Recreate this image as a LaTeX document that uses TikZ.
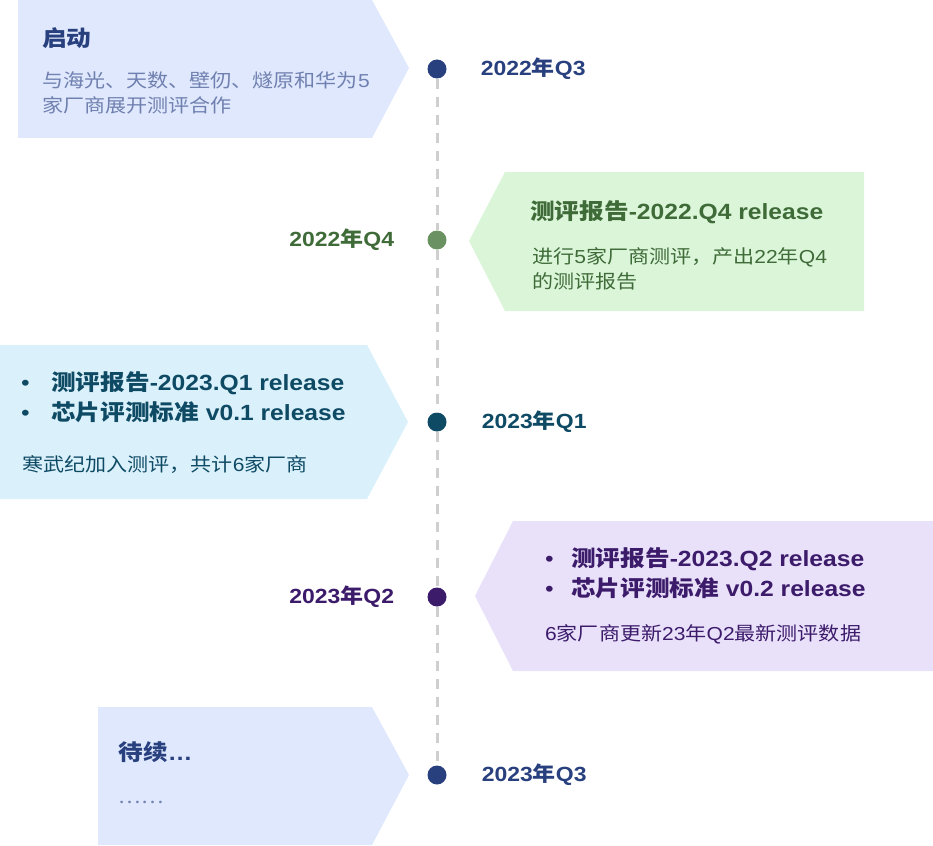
\documentclass[tikz,border=0pt]{standalone}
\usepackage{fontspec}
\setmainfont{Liberation Sans}[FakeStretch=1.12]
\newfontfamily\cjk{Noto Sans CJK SC}[FakeStretch=1.12]
\usetikzlibrary{positioning}
\newcommand{\zh}[1]{{\cjk #1}}
\definecolor{fillA}{HTML}{DFE8FC}
\definecolor{fillG}{HTML}{DBF5D8}
\definecolor{fillB}{HTML}{DAF1FC}
\definecolor{fillP}{HTML}{E9E1FA}
\definecolor{navy}{HTML}{29407F}
\definecolor{slate}{HTML}{7080B0}
\definecolor{leaf}{HTML}{3F6B39}
\definecolor{leafdot}{HTML}{6A9162}
\definecolor{teal}{HTML}{0E4A64}
\definecolor{plum}{HTML}{3C1B6B}
\definecolor{dashgrey}{HTML}{CFCFCF}

\begin{document}
\begin{tikzpicture}[x=1pt,y=-1pt,
  txt/.style={inner sep=0pt, anchor=base west},
  para/.style={inner sep=0pt, anchor=north west, align=left},
  dot/.style={circle, inner sep=0pt, minimum size=19pt},
  datelbl/.style={inner sep=0pt, font=\fontsize{20.5}{24}\selectfont\bfseries},
  ttl/.style={font=\fontsize{22}{30}\selectfont\bfseries},
  bodyfont/.style={font=\fontsize{18.8}{25}\selectfont},
  timeline/.style={dashgrey, line width=3pt, dash pattern=on 10pt off 8pt}]
\useasboundingbox (0,0) rectangle (933,845);

% arrow boxes
\fill[fillA] (18,0) -- (372,0) -- (409,68) -- (372,138) -- (18,138) -- cycle;
\fill[fillG] (469,241) -- (505,172) -- (864,172) -- (864,311) -- (505,311) -- cycle;
\fill[fillB] (0,345) -- (367,345) -- (408,422) -- (367,499) -- (0,499) -- cycle;
\fill[fillP] (475,596) -- (513,521) -- (933,521) -- (933,671) -- (513,671) -- cycle;
\fill[fillA] (98,707) -- (372,707) -- (409,775) -- (372,845) -- (98,845) -- cycle;

% timeline
\node[dot, fill=navy] (q3) at (437,69) {};
\node[dot, fill=leafdot] (q4) at (437,240) {};
\node[dot, fill=teal] (q1) at (437,422) {};
\node[dot, fill=plum] (q2) at (437,597) {};
\node[dot, fill=navy] (q3b) at (437,775) {};
\foreach \a/\b in {q3/q4, q4/q1, q1/q2, q2/q3b}
  \draw[timeline] (\a) -- (\b);

\node[datelbl, text=navy, right=34pt of q3] (l3) {2022\zh{年}Q3};
\node[datelbl, text=leaf, left=33pt of q4] (l4) {2022\zh{年}Q4};
\node[datelbl, text=teal, right=35pt of q1] (l1) {2023\zh{年}Q1};
\node[datelbl, text=plum, left=33pt of q2] (l2) {2023\zh{年}Q2};
\node[datelbl, text=navy, right=35pt of q3b] (l3b) {2023\zh{年}Q3};

% 2022 Q3
\node[txt, ttl, text=navy] (t1) at (42,47) {\zh{启动}};
\node[para, bodyfont, text=slate] (b1) at (42,71.5)
  {\zh{与海光、天数、壁仞、燧原和华为}5\\\zh{家厂商展开测评合作}};

% 2022 Q4
\node[txt, ttl, text=leaf] (t2) at (530,219) {\zh{测评报告}-2022.Q4 release};
\node[para, bodyfont, text=leaf] (b2) at (532,247.5)
  {\zh{进行}5\zh{家厂商测评，产出}22\zh{年}Q4\\\zh{的测评报告}};

% 2023 Q1
\node[para, ttl, text=teal] (t3) at (21,371)
  {\makebox[30pt][l]{\mdseries •}\zh{测评报告}-2023.Q1 release\\
   \makebox[30pt][l]{\mdseries •}\zh{芯片评测标准} v0.1 release};
\node[txt, bodyfont, text=teal] (b3) at (22,471) {\zh{寒武纪加入测评，共计}6\zh{家厂商}};

% 2023 Q2
\node[para, ttl, text=plum] (t4) at (545,547)
  {\makebox[26pt][l]{\mdseries •}\zh{测评报告}-2023.Q2 release\\
   \makebox[26pt][l]{\mdseries •}\zh{芯片评测标准} v0.2 release};
\node[txt, bodyfont, text=plum] (b4) at (545,640) {6\zh{家厂商更新}23\zh{年}Q2\zh{最新测评数据}};

% 2023 Q3
\node[txt, ttl, text=navy] (t5) at (118.5,760) {\zh{待续}…};
\node[txt, bodyfont, text=slate] (b5) at (118.5,803) {\zh{……}};
\end{tikzpicture}
\end{document}
